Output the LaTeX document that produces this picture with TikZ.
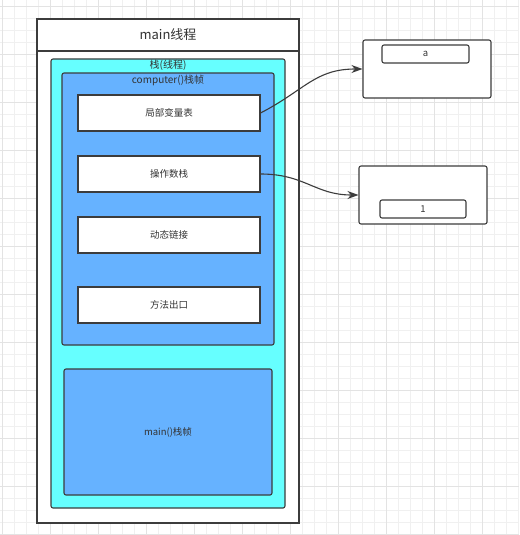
\documentclass[tikz,border=0pt]{standalone}
\usepackage{fontspec}
\setmainfont{Noto Sans CJK SC}
\usepackage{tikz}
\usetikzlibrary{arrows.meta,positioning,calc}
\definecolor{Edge}{HTML}{3C3C3C}
\definecolor{Ink}{HTML}{333333}
\definecolor{StackCyan}{HTML}{66FFFF}
\definecolor{FrameBlue}{HTML}{66B2FF}
\definecolor{GridMinor}{HTML}{F0F0F0}
\definecolor{GridMajor}{HTML}{E3E3E3}

\begin{document}
\begin{tikzpicture}[x=1pt,y=-1pt,
  box/.style={draw=Edge,line width=1.1pt,text=Ink,inner sep=0pt},
  slot/.style={box,fill=white,minimum width=182pt,minimum height=36pt,font=\fontsize{9.5}{11}\selectfont},
  obj/.style={box,fill=white,rounded corners=2pt,minimum width=128pt,minimum height=58pt},
  val/.style={box,fill=white,rounded corners=2pt,minimum height=18pt,font=\fontsize{9.5}{11}\selectfont},
  link/.style={draw=Edge,line width=1.1pt,-{Stealth[length=11pt,width=8pt]}}]
\useasboundingbox (0,0) rectangle (519,535);
\fill[white] (0,0) rectangle (519,535);
% background grid
\foreach \gx in {2,14,...,518} \draw[GridMinor,line width=0.5pt] (\gx,0) -- (\gx,535);
\foreach \gy in {6,18,...,534} \draw[GridMinor,line width=0.5pt] (0,\gy) -- (519,\gy);
\foreach \gx in {2,50,...,518} \draw[GridMajor,line width=0.6pt] (\gx,0) -- (\gx,535);
\foreach \gy in {6,54,...,534} \draw[GridMajor,line width=0.6pt] (0,\gy) -- (519,\gy);

% thread
\node[box,fill=white,minimum width=262pt,minimum height=504pt] (thread) at (168,271) {};
\draw[Edge,line width=1.1pt] (37,51) -- (299,51);
\node[text=Ink,font=\fontsize{13}{15}\selectfont] (title) at (168,35) {main线程};
\node[box,fill=StackCyan,rounded corners=2pt,minimum width=234pt,minimum height=449pt] (stack) at (168,283.5) {};
\node[text=Ink,font=\fontsize{10}{11}\selectfont] (stacklbl) at (168,65) {栈(线程)};
\node[box,fill=FrameBlue,rounded corners=2pt,minimum width=212pt,minimum height=272pt] (compframe) at (168,209) {};
\node[text=Ink,font=\fontsize{10}{11}\selectfont] (complbl) at (168,80) {computer()栈帧};

% frame slots
\node[slot] (locals) at (169,113) {局部变量表};
\node[slot] (operand) at (169,174) {操作数栈};
\node[slot] (dynlink) at (169,235) {动态链接};
\node[slot] (retaddr) at (169,305) {方法出口};

\node[box,fill=FrameBlue,rounded corners=2pt,minimum width=208pt,minimum height=126pt,font=\fontsize{9.5}{11}\selectfont] (mainframe) at (168,432) {main()栈帧};

% heap objects
\node[obj] (objA) at (427,69) {};
\node[val,minimum width=87pt] (valA) at (425.5,54) {a};
\node[obj] (objB) at (423,195) {};
\node[val,minimum width=86pt] (valB) at (423,209) {1};

\draw[link] (locals.east) .. controls (305,90) and (315,69) .. (objA.west);
\draw[link] (operand.east) .. controls (305,174) and (315,195) .. (objB.west);
\end{tikzpicture}
\end{document}
